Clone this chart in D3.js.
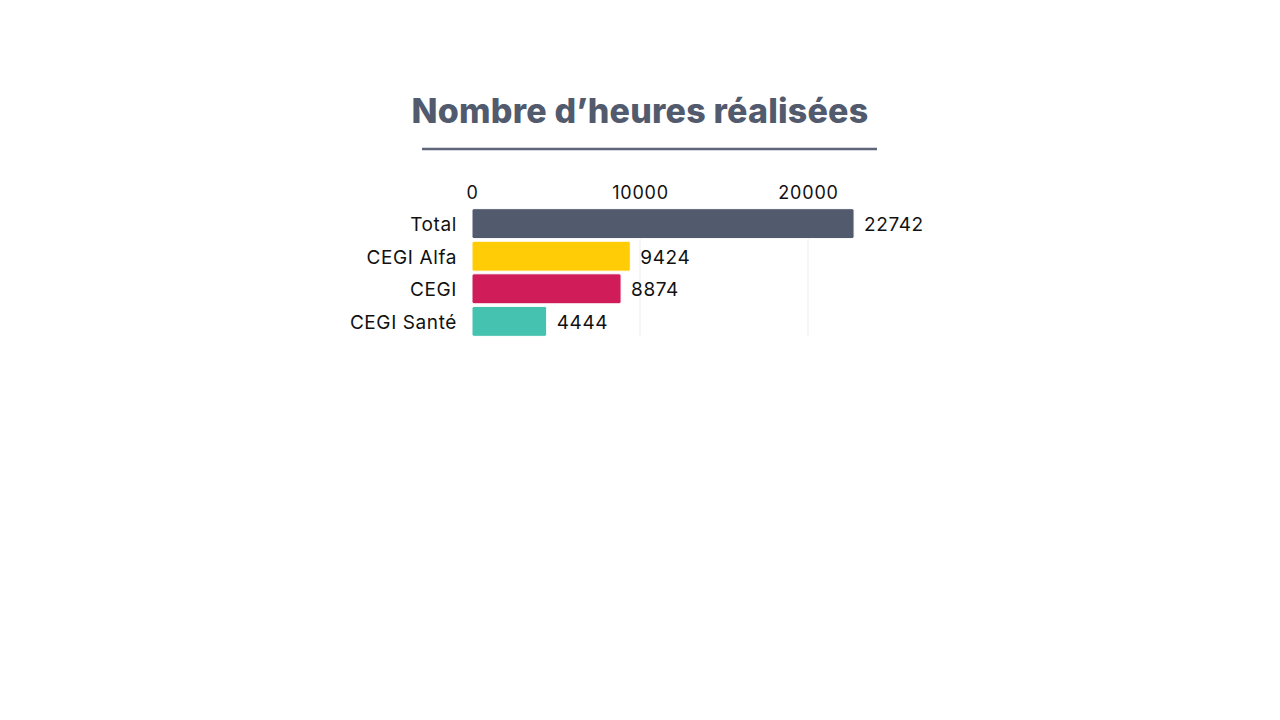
<!DOCTYPE html>
<html><head><meta charset="utf-8">
<script src="https://cdn.jsdelivr.net/npm/d3@7"></script>
<style>
html,body{margin:0;padding:0;background:#fff;}
svg{display:block;font-family:"Inter","Open Sans",sans-serif;}
</style></head>
<body>
<svg id="c" width="1280" height="720"></svg>
<script>
const categories = ["Total", "CEGI Alfa", "CEGI", "CEGI Santé"];
const values = [22742, 9424, 8874, 4444];
const colors = ["#525a6e", "#ffcc05", "#d11c5a", "#45c3b0"];
const tickValues = [0, 10000, 20000];
const title = "Nombre d’heures réalisées";

const svg = d3.select("#c");
const x = d3.scaleLinear().domain([0, 10000]).range([472, 640]);
const y = d3.scaleBand().domain(categories).range([208, 337]).paddingInner(0.08).paddingOuter(0.02);

svg.append("text").attr("x", 640).attr("y", 123).attr("text-anchor", "middle")
  .attr("font-size", 34).attr("font-weight", 800).attr("letter-spacing", 0.2)
  .attr("fill", "#525a6e").text(title);
svg.append("line").attr("x1", 422).attr("x2", 877).attr("y1", 149).attr("y2", 149)
  .attr("stroke", "#5f6679").attr("stroke-width", 2.5);

// grid
svg.append("g").selectAll("line").data(tickValues.slice(1)).join("line")
  .attr("x1", d => x(d)).attr("x2", d => x(d)).attr("y1", 208).attr("y2", 336)
  .attr("stroke", "#ececec").attr("stroke-width", 1);

// top axis
const ax = svg.append("g").attr("transform", "translate(0,199)")
  .call(d3.axisTop(x).tickValues(tickValues).tickSize(0).tickPadding(0).tickFormat(d3.format("d")));
ax.select(".domain").remove();
ax.selectAll("text").attr("font-size", 18).attr("letter-spacing", 0.8).attr("fill", "#111").attr("font-family", "Inter, sans-serif");

// bars
svg.append("g").selectAll("rect").data(categories).join("rect")
  .attr("x", x(0)).attr("y", d => y(d)).attr("width", (d, i) => x(values[i]) - x(0))
  .attr("height", y.bandwidth()).attr("rx", 2)
  .attr("fill", (d, i) => colors[i]).attr("stroke", "#fff").attr("stroke-width", 1);

// category labels
const ay = svg.append("g").attr("transform", `translate(${x(0)},0)`)
  .call(d3.axisLeft(y).tickSize(0).tickPadding(15));
ay.select(".domain").remove();
ay.selectAll("text").attr("font-size", 19).attr("letter-spacing", 0.6).attr("dy", "0.4em")
  .attr("fill", "#111").attr("font-family", "Inter, sans-serif");

// value labels
svg.append("g").selectAll("text").data(categories).join("text")
  .attr("x", (d, i) => x(values[i]) + 10).attr("y", d => y(d) + y.bandwidth() / 2)
  .attr("dy", "0.4em").attr("font-size", 19).attr("letter-spacing", 0.6).attr("fill", "#111")
  .text((d, i) => values[i]);
</script>
</body></html>
